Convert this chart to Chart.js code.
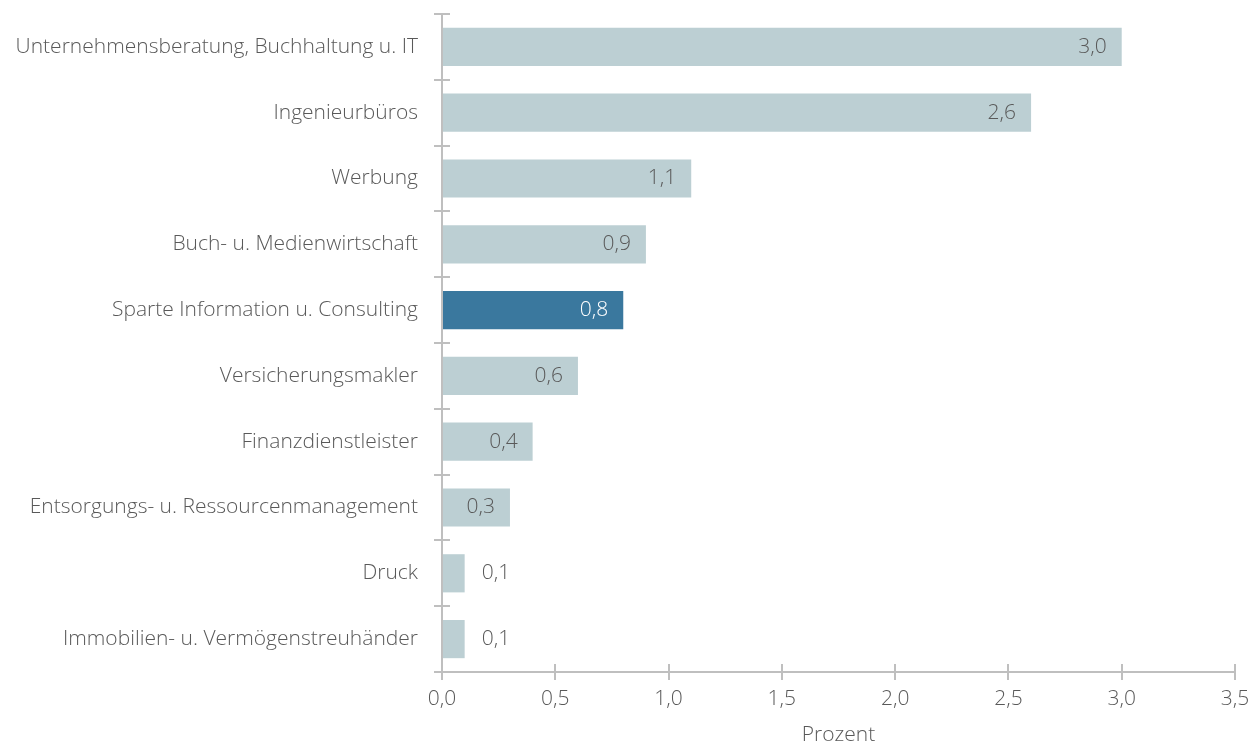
<!DOCTYPE html>
<html>
<head>
    <title>Sparten</title>
    <script src="https://cdn.jsdelivr.net/npm/chart.js"></script>
    <style>
        body { margin: 0; background: #fff; }
        #wrap { width: 1257px; height: 744px; }
    </style>
</head>
<body>
    <div id="wrap"><canvas id="chart" width="1257" height="744"></canvas></div>
    <script>
        const categories = [
            'Unternehmensberatung, Buchhaltung u. IT',
            'Ingenieurbüros',
            'Werbung',
            'Buch- u. Medienwirtschaft',
            'Sparte Information u. Consulting',
            'Versicherungsmakler',
            'Finanzdienstleister',
            'Entsorgungs- u. Ressourcenmanagement',
            'Druck',
            'Immobilien- u. Vermögenstreuhänder'
        ];
        const values = [3.0, 2.6, 1.1, 0.9, 0.8, 0.6, 0.4, 0.3, 0.1, 0.1];
        const highlightIndex = 4;
        const xTicks = [0, 0.5, 1, 1.5, 2, 2.5, 3, 3.5];
        const xTitle = 'Prozent';

        const FONT = "'Open Sans', 'Segoe UI', sans-serif";
        const SIZE = 21;
        const TEXT = '#595959';
        const AXIS = '#bfbfbf';
        const fmt = v => v.toFixed(1).replace('.', ',');

        // axis lines with ticks crossing both sides, plus value labels
        const decor = {
            id: 'decor',
            afterDatasetsDraw(chart) {
                const ctx = chart.ctx;
                const x = chart.scales.x, y = chart.scales.y;
                const a = chart.chartArea;
                ctx.save();
                ctx.strokeStyle = AXIS;
                ctx.lineWidth = 2;
                ctx.beginPath();
                ctx.moveTo(a.left, a.top); ctx.lineTo(a.left, a.bottom);
                ctx.moveTo(a.left, a.bottom); ctx.lineTo(a.right, a.bottom);
                const step = (y.getPixelForValue(1) - y.getPixelForValue(0));
                for (let i = 0; i <= categories.length; i++) {
                    const py = Math.round(y.getPixelForValue(i) - step / 2);
                    ctx.moveTo(a.left - 8, py); ctx.lineTo(a.left + 8, py);
                }
                xTicks.forEach(t => {
                    const px = Math.round(x.getPixelForValue(t));
                    ctx.moveTo(px, a.bottom - 8); ctx.lineTo(px, a.bottom + 8);
                });
                ctx.stroke();

                ctx.font = '300 ' + SIZE + 'px ' + FONT;
                ctx.textBaseline = 'middle';
                const meta = chart.getDatasetMeta(0);
                meta.data.forEach((bar, i) => {
                    const txt = fmt(values[i]);
                    const w = ctx.measureText(txt).width;
                    const barW = bar.x - bar.base;
                    if (barW > w + 24) {
                        ctx.textAlign = 'right';
                        ctx.fillStyle = i === highlightIndex ? '#ffffff' : TEXT;
                        ctx.fillText(txt, bar.x - 15, bar.y);
                    } else {
                        ctx.textAlign = 'left';
                        ctx.fillStyle = TEXT;
                        ctx.fillText(txt, bar.x + 17, bar.y);
                    }
                });
                ctx.restore();
            }
        };

        new Chart(document.getElementById('chart'), {
            type: 'bar',
            data: {
                labels: categories,
                datasets: [{
                    data: values,
                    backgroundColor: values.map((v, i) => i === highlightIndex ? '#3a789e' : '#bccfd3'),
                    barPercentage: 0.58,
                    categoryPercentage: 1
                }]
            },
            options: {
                indexAxis: 'y',
                responsive: false,
                animation: false,
                layout: { padding: { top: 14, right: 22, bottom: 0, left: 0 } },
                plugins: { legend: { display: false }, tooltip: { enabled: false } },
                scales: {
                    x: {
                        min: 0, max: 3.5,
                        afterBuildTicks: s => { s.ticks = xTicks.map(v => ({ value: v })); },
                        afterFit: s => { s.height = 72; s.paddingLeft = 0; s.paddingRight = 0; },
                        grid: { display: false },
                        border: { display: false },
                        ticks: {
                            color: TEXT, padding: 6,
                            font: { family: FONT, size: SIZE, weight: 300 },
                            callback: v => fmt(v),
                            maxRotation: 0
                        },
                        title: {
                            display: true, text: xTitle, color: TEXT,
                            font: { family: FONT, size: SIZE, weight: 300 },
                            padding: { top: 0, bottom: -4 }
                        }
                    },
                    y: {
                        afterFit: s => { s.width = 442; s.paddingTop = 0; s.paddingBottom = 0; },
                        grid: { display: false },
                        border: { display: false },
                        ticks: {
                            color: TEXT, padding: 16,
                            font: { family: FONT, size: SIZE, weight: 300 }
                        }
                    }
                }
            },
            plugins: [decor]
        });
    </script>
</body>
</html>
